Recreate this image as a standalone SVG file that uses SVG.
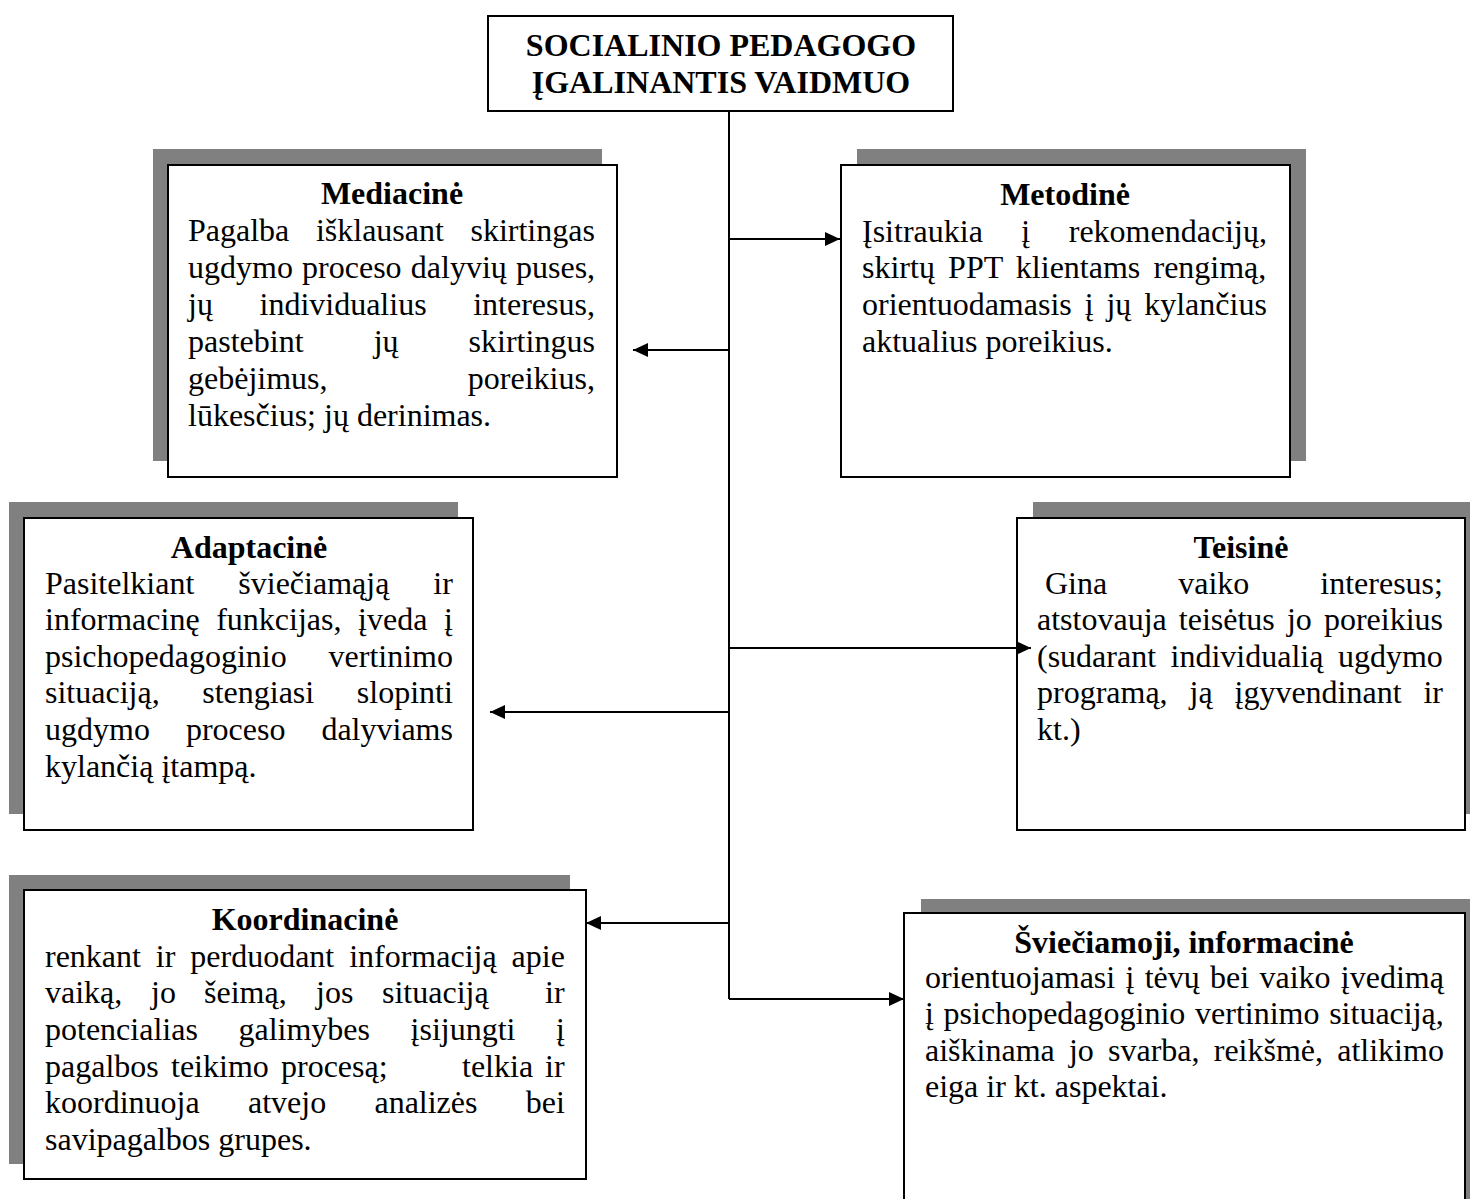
<svg xmlns="http://www.w3.org/2000/svg" width="1470" height="1199" viewBox="0 0 1470 1199">
<defs>
<style>
.box{fill:#fff;stroke:#000;stroke-width:2}
.shadow{fill:#808080}
.t{font-family:"Liberation Serif","Times New Roman",serif;font-size:32px;fill:#000}
.h{font-weight:bold;text-anchor:middle}
.conn{stroke:#000;stroke-width:2;fill:none}
</style>
<marker id="arr" markerUnits="userSpaceOnUse" markerWidth="16" markerHeight="14" refX="15" refY="7" orient="auto">
<path d="M0,0 L15,7 L0,14 z" fill="#000"/>
</marker>
</defs>
<rect width="1470" height="1199" fill="#fff"/>

<g id="root">
<rect class="box" x="488" y="16" width="465" height="95"/>
<text class="t h" x="721" y="56">SOCIALINIO PEDAGOGO</text>
<text class="t h" x="721" y="93">ĮGALINANTIS VAIDMUO</text>
</g>

<g id="mediacine">
<rect class="shadow" x="153" y="149" width="449" height="312"/>
<rect class="box" x="168" y="165" width="449" height="312"/>
<text class="t h" x="392" y="204">Mediacinė</text>
<text class="t" x="188" y="241" style="word-spacing:18.6px">Pagalba išklausant skirtingas</text>
<text class="t" x="188" y="278" style="word-spacing:1.2px">ugdymo proceso dalyvių puses,</text>
<text class="t" x="188" y="315" style="word-spacing:38.6px">jų individualius interesus,</text>
<text class="t" x="188" y="352" style="word-spacing:62.1px">pastebint jų skirtingus</text>
<text class="t" x="188" y="389" style="word-spacing:132.3px">gebėjimus, poreikius,</text>
<text class="t" x="188" y="426">lūkesčius; jų derinimas.</text>
</g>

<g id="metodine">
<rect class="shadow" x="857" y="149" width="449" height="312"/>
<rect class="box" x="841" y="165" width="449" height="312"/>
<text class="t h" x="1065" y="205">Metodinė</text>
<text class="t" x="862" y="242" style="word-spacing:30.5px">Įsitraukia į rekomendacijų,</text>
<text class="t" x="862" y="278" style="word-spacing:5.2px">skirtų PPT klientams rengimą,</text>
<text class="t" x="862" y="315" style="word-spacing:4.9px">orientuodamasis į jų kylančius</text>
<text class="t" x="862" y="352">aktualius poreikius.</text>
</g>

<g id="adaptacine">
<rect class="shadow" x="9" y="502" width="449" height="312"/>
<rect class="box" x="24" y="518" width="449" height="312"/>
<text class="t h" x="249" y="558">Adaptacinė</text>
<text class="t" x="45" y="594" style="word-spacing:36px">Pasitelkiant šviečiamąją ir</text>
<text class="t" x="45" y="630" style="word-spacing:8.6px">informacinę funkcijas, įveda į</text>
<text class="t" x="45" y="667" style="word-spacing:33.8px">psichopedagoginio vertinimo</text>
<text class="t" x="45" y="703" style="word-spacing:34.6px">situaciją, stengiasi slopinti</text>
<text class="t" x="45" y="740" style="word-spacing:28px">ugdymo proceso dalyviams</text>
<text class="t" x="45" y="777">kylančią įtampą.</text>
</g>

<g id="teisine">
<rect class="shadow" x="1033" y="502" width="449" height="312"/>
<rect class="box" x="1017" y="518" width="448" height="312"/>
<text class="t h" x="1241" y="558">Teisinė</text>
<text class="t" x="1045" y="594" style="word-spacing:63px">Gina vaiko interesus;</text>
<text class="t" x="1037" y="630" style="word-spacing:4.1px">atstovauja teisėtus jo poreikius</text>
<text class="t" x="1037" y="667" style="word-spacing:6.5px">(sudarant individualią ugdymo</text>
<text class="t" x="1037" y="703" style="word-spacing:13.9px">programą, ją įgyvendinant ir</text>
<text class="t" x="1037" y="740">kt.)</text>
</g>

<g id="koordinacine">
<rect class="shadow" x="9" y="875" width="561" height="289"/>
<rect class="box" x="24" y="890" width="562" height="289"/>
<text class="t h" x="305" y="930">Koordinacinė</text>
<text class="t" x="45" y="967" style="word-spacing:6.9px">renkant ir perduodant informaciją apie</text>
<text class="t" y="1003"><tspan x="45">vaiką,</tspan><tspan x="151">jo</tspan><tspan x="204">šeimą,</tspan><tspan x="316">jos</tspan><tspan x="382">situaciją</tspan><tspan x="545">ir</tspan></text>
<text class="t" x="45" y="1040" style="word-spacing:32.6px">potencialias galimybes įsijungti į</text>
<text class="t" y="1077"><tspan x="45">pagalbos</tspan><tspan x="171">teikimo</tspan><tspan x="281">procesą;</tspan><tspan x="462">telkia</tspan><tspan x="545">ir</tspan></text>
<text class="t" x="45" y="1113" style="word-spacing:40.3px">koordinuoja atvejo analizės bei</text>
<text class="t" x="45" y="1150">savipagalbos grupes.</text>
</g>

<g id="svieciamoji">
<rect class="shadow" x="921" y="899" width="561" height="320"/>
<rect class="box" x="904" y="913" width="561" height="320"/>
<text class="t h" x="1184" y="953">Šviečiamoji, informacinė</text>
<text class="t" x="925" y="988" style="word-spacing:2.3px">orientuojamasi į tėvų bei vaiko įvedimą</text>
<text class="t" x="925" y="1024" style="word-spacing:1.7px">į psichopedagoginio vertinimo situaciją,</text>
<text class="t" x="925" y="1061" style="word-spacing:6.2px">aiškinama jo svarba, reikšmė, atlikimo</text>
<text class="t" x="925" y="1097">eiga ir kt. aspektai.</text>
</g>

<g id="connectors">
<path class="conn" d="M729,111 V999"/>
<path class="conn" d="M729,239 H840" marker-end="url(#arr)"/>
<path class="conn" d="M729,350 H633" marker-end="url(#arr)"/>
<path class="conn" d="M729,648 H1031" marker-end="url(#arr)"/>
<path class="conn" d="M729,712 H490" marker-end="url(#arr)"/>
<path class="conn" d="M729,923 H586" marker-end="url(#arr)"/>
<path class="conn" d="M729,999 H904" marker-end="url(#arr)"/>
</g>
</svg>
